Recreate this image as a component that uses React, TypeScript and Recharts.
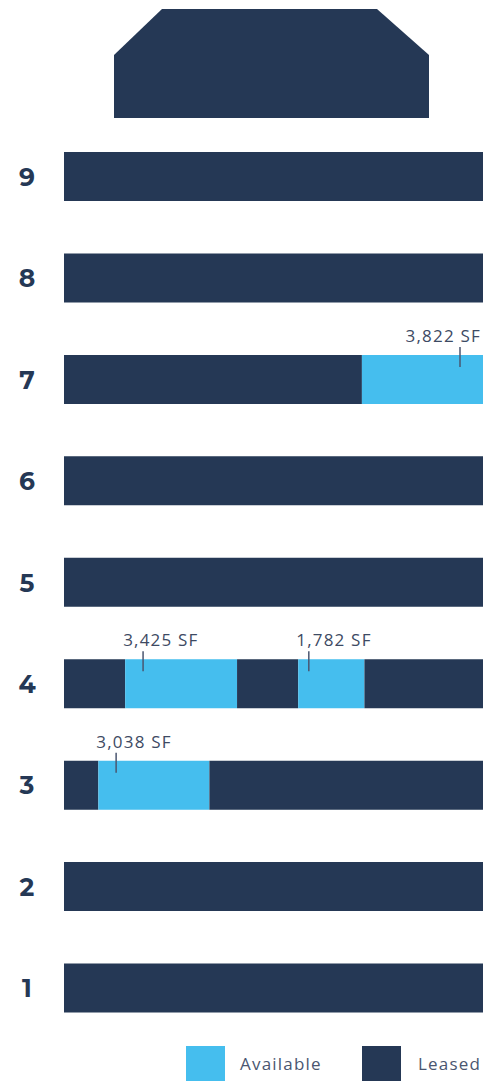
import { Bar, BarChart, LabelList, XAxis, YAxis } from "recharts";

const floors = ["9", "8", "7", "6", "5", "4", "3", "2", "1"];
// share of each floor's width, left to right; odd segments leased, even available
const seg1 = [100, 100, 71.1, 100, 100, 14.6, 8.2, 100, 100];
const seg2 = [0, 0, 28.9, 0, 0, 26.7, 26.5, 0, 0];
const seg3 = [0, 0, 0, 0, 0, 14.6, 65.3, 0, 0];
const seg4 = [0, 0, 0, 0, 0, 15.8, 0, 0, 0];
const seg5 = [0, 0, 0, 0, 0, 28.3, 0, 0, 0];
const label2 = ["", "", "3,822 SF", "", "", "3,425 SF", "3,038 SF", "", ""];
const label4 = ["", "", "", "", "", "1,782 SF", "", "", ""];

const LEASED = "#253855";
const AVAILABLE = "#45BEEE";
const TEXT = "#3d4a63";
const FONT = "'Open Sans', sans-serif";

const data = floors.map((floor, i) => ({
  floor,
  s1: seg1[i],
  s2: seg2[i],
  s3: seg3[i],
  s4: seg4[i],
  s5: seg5[i],
  label2: label2[i],
  label4: label4[i]
}));

const PLOT_RIGHT = 483;

function SfLabel(props: any) {
  const { x, y, width, value } = props;
  if (!value) return null;
  const atEnd = x + width >= PLOT_RIGHT - 2;
  const lineX = atEnd ? x + width - 23 : x + width * 0.16;
  return (
    <g>
      <line x1={lineX} x2={lineX} y1={y - 8} y2={y + 12} stroke="#4a5670" strokeWidth={1.5} />
      <text
        x={atEnd ? x + width - 2 : x - 2}
        y={y - 13}
        textAnchor={atEnd ? "end" : "start"}
        fontFamily={FONT}
        fontSize={17}
        letterSpacing={1.2}
        fill={TEXT}
      >
        {value}
      </text>
    </g>
  );
}

function FloorTick(props: any) {
  const { y, payload } = props;
  return (
    <text x={27} y={y} dy={9} textAnchor="middle" fontFamily="Montserrat, 'Open Sans', sans-serif" fontWeight={700} fontSize={25} fill={LEASED}>
      {payload.value}
    </text>
  );
}

export default function App() {
  return (
    <div style={{ position: "absolute", left: 0, top: 0, width: 492, height: 1081, background: "#fff" }}>
      <svg width={492} height={130} style={{ position: "absolute", left: 0, top: 0 }}>
        <polygon points="162,9 377,9 429,55 429,118 114,118 114,55" fill={LEASED} />
      </svg>
      <div style={{ position: "absolute", left: 0, top: 0 }}>
        <BarChart
          width={492}
          height={1081}
          data={data}
          layout="vertical"
          margin={{ top: 126, right: 9, bottom: 42, left: 0 }}
          barSize={49}
        >
          <XAxis type="number" domain={[0, 100]} hide />
          <YAxis type="category" dataKey="floor" width={64} axisLine={false} tickLine={false} tick={<FloorTick />} />
          <Bar dataKey="s1" stackId="f" fill={LEASED} isAnimationActive={false} />
          <Bar dataKey="s2" stackId="f" fill={AVAILABLE} isAnimationActive={false}>
            <LabelList dataKey="label2" content={<SfLabel />} />
          </Bar>
          <Bar dataKey="s3" stackId="f" fill={LEASED} isAnimationActive={false} />
          <Bar dataKey="s4" stackId="f" fill={AVAILABLE} isAnimationActive={false}>
            <LabelList dataKey="label4" content={<SfLabel />} />
          </Bar>
          <Bar dataKey="s5" stackId="f" fill={LEASED} isAnimationActive={false} />
        </BarChart>
      </div>
      <div style={{ position: "absolute", left: 186, top: 1046, display: "flex", alignItems: "center", fontFamily: FONT, fontSize: 17, letterSpacing: 1.2, color: "#4a5670" }}>
        <span style={{ width: 39, height: 35, background: AVAILABLE, display: "inline-block" }} />
        <span style={{ marginLeft: 15, width: 122 }}>Available</span>
        <span style={{ width: 39, height: 35, background: LEASED, display: "inline-block" }} />
        <span style={{ marginLeft: 17 }}>Leased</span>
      </div>
    </div>
  );
}
